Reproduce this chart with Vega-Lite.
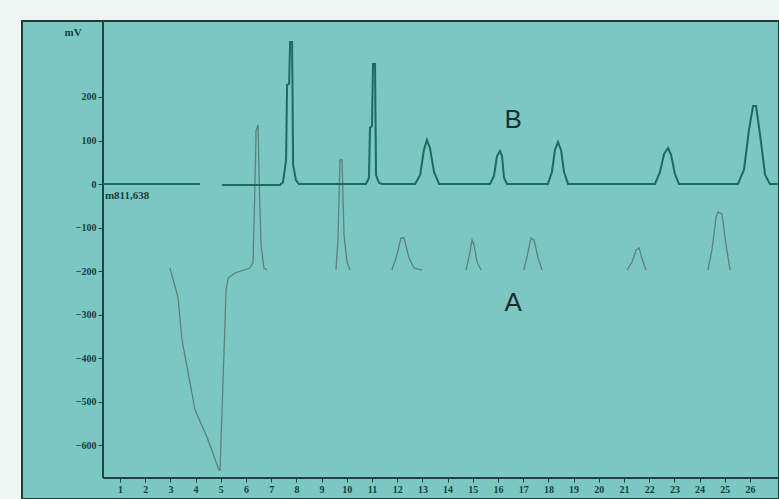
{
  "$schema": "https://vega.github.io/schema/vega-lite/v6.json",
  "width": 757,
  "height": 478,
  "autosize": {"type": "none"},
  "padding": {"left": 22, "top": 21, "right": 0, "bottom": 0},
  "background": "#eef5f3",
  "config": {
    "view": {"fill": "#7bc7c3", "stroke": "#1e3b38", "strokeWidth": 2},
    "axis": {"grid": false, "domain": false}
  },
  "datasets": {
    "frame": [
      {"t": 0.325, "t2": 0.325, "v": -676, "v2": 374.7},
      {"t": 0.325, "t2": 27.151, "v": -676, "v2": -676}
    ],
    "traceA": [
      {"seg": "A1", "t": 2.98, "v": -193.1},
      {"seg": "A1", "t": 3.30, "v": -259.8},
      {"seg": "A1", "t": 3.46, "v": -358.6},
      {"seg": "A1", "t": 3.78, "v": -457.5},
      {"seg": "A1", "t": 3.98, "v": -519.6},
      {"seg": "A1", "t": 4.45, "v": -581.6},
      {"seg": "A1", "t": 4.93, "v": -657.5},
      {"seg": "A1", "t": 4.97, "v": -657.5},
      {"seg": "A1", "t": 5.21, "v": -243.7},
      {"seg": "A1", "t": 5.29, "v": -216.1},
      {"seg": "A1", "t": 5.56, "v": -204.6},
      {"seg": "A1", "t": 6.16, "v": -193.1},
      {"seg": "A1", "t": 6.28, "v": -179.3},
      {"seg": "A1", "t": 6.36, "v": 9.2},
      {"seg": "A1", "t": 6.40, "v": 124.1},
      {"seg": "A1", "t": 6.48, "v": 135.6},
      {"seg": "A1", "t": 6.52, "v": 9.2},
      {"seg": "A1", "t": 6.60, "v": -140.2},
      {"seg": "A1", "t": 6.71, "v": -193.1},
      {"seg": "A1", "t": 6.83, "v": -197.7},
      {"seg": "A2", "t": 9.57, "v": -197.7},
      {"seg": "A2", "t": 9.65, "v": -128.7},
      {"seg": "A2", "t": 9.73, "v": 55.2},
      {"seg": "A2", "t": 9.81, "v": 55.2},
      {"seg": "A2", "t": 9.89, "v": -117.2},
      {"seg": "A2", "t": 10.01, "v": -179.3},
      {"seg": "A2", "t": 10.13, "v": -197.7},
      {"seg": "A3", "t": 11.79, "v": -197.7},
      {"seg": "A3", "t": 11.99, "v": -163.2},
      {"seg": "A3", "t": 12.15, "v": -124.1},
      {"seg": "A3", "t": 12.27, "v": -124.1},
      {"seg": "A3", "t": 12.47, "v": -170.1},
      {"seg": "A3", "t": 12.67, "v": -193.1},
      {"seg": "A3", "t": 12.98, "v": -197.7},
      {"seg": "A4", "t": 14.73, "v": -197.7},
      {"seg": "A4", "t": 14.89, "v": -156.3},
      {"seg": "A4", "t": 14.97, "v": -128.7},
      {"seg": "A4", "t": 15.05, "v": -140.2},
      {"seg": "A4", "t": 15.17, "v": -179.3},
      {"seg": "A4", "t": 15.33, "v": -197.7},
      {"seg": "A5", "t": 17.03, "v": -197.7},
      {"seg": "A5", "t": 17.19, "v": -156.3},
      {"seg": "A5", "t": 17.31, "v": -124.1},
      {"seg": "A5", "t": 17.43, "v": -128.7},
      {"seg": "A5", "t": 17.59, "v": -170.1},
      {"seg": "A5", "t": 17.75, "v": -197.7},
      {"seg": "A6", "t": 21.12, "v": -197.7},
      {"seg": "A6", "t": 21.32, "v": -179.3},
      {"seg": "A6", "t": 21.48, "v": -151.7},
      {"seg": "A6", "t": 21.60, "v": -147.1},
      {"seg": "A6", "t": 21.71, "v": -170.1},
      {"seg": "A6", "t": 21.87, "v": -197.7},
      {"seg": "A7", "t": 24.33, "v": -197.7},
      {"seg": "A7", "t": 24.49, "v": -151.7},
      {"seg": "A7", "t": 24.65, "v": -78.2},
      {"seg": "A7", "t": 24.73, "v": -64.4},
      {"seg": "A7", "t": 24.89, "v": -69.0},
      {"seg": "A7", "t": 25.05, "v": -140.2},
      {"seg": "A7", "t": 25.21, "v": -197.7}
    ],
    "traceB": [
      {"seg": "B1", "t": 0.33, "v": 0},
      {"seg": "B1", "t": 4.18, "v": 0},
      {"seg": "B2", "t": 5.05, "v": -2.3},
      {"seg": "B2", "t": 7.35, "v": -2.3},
      {"seg": "B2", "t": 7.47, "v": 4.6},
      {"seg": "B2", "t": 7.59, "v": 55.2},
      {"seg": "B2", "t": 7.63, "v": 227.6},
      {"seg": "B2", "t": 7.71, "v": 229.9},
      {"seg": "B2", "t": 7.75, "v": 326.5},
      {"seg": "B2", "t": 7.83, "v": 326.5},
      {"seg": "B2", "t": 7.87, "v": 43.7},
      {"seg": "B2", "t": 7.98, "v": 9.2},
      {"seg": "B2", "t": 8.10, "v": 0},
      {"seg": "B2", "t": 10.76, "v": 0},
      {"seg": "B2", "t": 10.88, "v": 13.8},
      {"seg": "B2", "t": 10.92, "v": 128.7},
      {"seg": "B2", "t": 11.00, "v": 133.3},
      {"seg": "B2", "t": 11.04, "v": 275.9},
      {"seg": "B2", "t": 11.12, "v": 275.9},
      {"seg": "B2", "t": 11.16, "v": 20.7},
      {"seg": "B2", "t": 11.28, "v": 2.3},
      {"seg": "B2", "t": 11.40, "v": 0},
      {"seg": "B2", "t": 12.71, "v": 0},
      {"seg": "B2", "t": 12.91, "v": 20.7},
      {"seg": "B2", "t": 13.06, "v": 78.2},
      {"seg": "B2", "t": 13.18, "v": 101.2},
      {"seg": "B2", "t": 13.30, "v": 82.8},
      {"seg": "B2", "t": 13.46, "v": 27.6},
      {"seg": "B2", "t": 13.66, "v": 0},
      {"seg": "B2", "t": 15.68, "v": 0},
      {"seg": "B2", "t": 15.84, "v": 18.4},
      {"seg": "B2", "t": 15.96, "v": 64.4},
      {"seg": "B2", "t": 16.08, "v": 75.9},
      {"seg": "B2", "t": 16.16, "v": 64.4},
      {"seg": "B2", "t": 16.24, "v": 13.8},
      {"seg": "B2", "t": 16.36, "v": 0},
      {"seg": "B2", "t": 17.98, "v": 0},
      {"seg": "B2", "t": 18.14, "v": 27.6},
      {"seg": "B2", "t": 18.26, "v": 78.2},
      {"seg": "B2", "t": 18.38, "v": 96.6},
      {"seg": "B2", "t": 18.50, "v": 78.2},
      {"seg": "B2", "t": 18.62, "v": 27.6},
      {"seg": "B2", "t": 18.78, "v": 0},
      {"seg": "B2", "t": 22.23, "v": 0},
      {"seg": "B2", "t": 22.43, "v": 27.6},
      {"seg": "B2", "t": 22.59, "v": 69.0},
      {"seg": "B2", "t": 22.75, "v": 82.8},
      {"seg": "B2", "t": 22.87, "v": 66.7},
      {"seg": "B2", "t": 23.02, "v": 23.0},
      {"seg": "B2", "t": 23.18, "v": 0},
      {"seg": "B2", "t": 25.52, "v": 0},
      {"seg": "B2", "t": 25.76, "v": 32.2},
      {"seg": "B2", "t": 25.96, "v": 124.1},
      {"seg": "B2", "t": 26.12, "v": 179.3},
      {"seg": "B2", "t": 26.24, "v": 179.3},
      {"seg": "B2", "t": 26.40, "v": 112.7},
      {"seg": "B2", "t": 26.60, "v": 20.7},
      {"seg": "B2", "t": 26.79, "v": 0},
      {"seg": "B2", "t": 27.15, "v": 0}
    ],
    "labels": [
      {"t": 16.6, "v": 147, "txt": "B"},
      {"t": 16.6, "v": -274, "txt": "A"}
    ],
    "notes": [
      {"t": 0.40, "v": -28, "txt": "m811,638"},
      {"t": -1.2, "v": 347, "txt": "mV"}
    ]
  },
  "encoding": {
    "x": {
      "field": "t", "type": "quantitative",
      "scale": {"domain": [-2.889, 27.151], "nice": false, "zero": false},
      "axis": {
        "orient": "bottom", "offset": -21, "title": null,
        "values": [1,2,3,4,5,6,7,8,9,10,11,12,13,14,15,16,17,18,19,20,21,22,23,24,25,26],
        "labelOverlap": false, "labelSeparation": 0,
        "labelFont": "Liberation Serif", "labelFontWeight": "bold", "labelFontSize": 10,
        "labelColor": "#17403b", "tickColor": "#17403b", "tickSize": 4, "labelPadding": 2
      }
    },
    "y": {
      "field": "v", "type": "quantitative",
      "scale": {"domain": [-724.1, 374.7], "nice": false, "zero": false},
      "axis": {
        "orient": "left", "offset": -81, "title": null,
        "values": [-600, -500, -400, -300, -200, -100, 0, 100, 200],
        "labelOverlap": false,
        "labelFont": "Liberation Serif", "labelFontWeight": "bold", "labelFontSize": 10,
        "labelColor": "#17403b", "tickColor": "#17403b", "tickSize": 5, "labelPadding": 2
      }
    }
  },
  "layer": [
    {
      "data": {"name": "frame"},
      "mark": {"type": "rule", "color": "#1e4440", "strokeWidth": 2},
      "encoding": {
        "x2": {"field": "t2"},
        "y2": {"field": "v2"}
      }
    },
    {
      "data": {"name": "traceA"},
      "mark": {"type": "line", "color": "#5d7877", "strokeWidth": 1.3, "opacity": 0.9},
      "encoding": {
        "detail": {"field": "seg", "type": "nominal"},
        "order": {"field": "t", "type": "quantitative"}
      }
    },
    {
      "data": {"name": "traceB"},
      "mark": {"type": "line", "color": "#1a6c62", "strokeWidth": 2},
      "encoding": {
        "detail": {"field": "seg", "type": "nominal"},
        "order": {"field": "t", "type": "quantitative"}
      }
    },
    {
      "data": {"name": "labels"},
      "mark": {"type": "text", "font": "Liberation Sans", "fontSize": 26, "color": "#1c2e2c", "align": "center", "baseline": "middle"},
      "encoding": {
        "text": {"field": "txt"}
      }
    },
    {
      "data": {"name": "notes"},
      "mark": {"type": "text", "font": "Liberation Serif", "fontWeight": "bold", "fontSize": 11, "color": "#17403b", "align": "left", "baseline": "middle"},
      "encoding": {
        "text": {"field": "txt"}
      }
    }
  ]
}
